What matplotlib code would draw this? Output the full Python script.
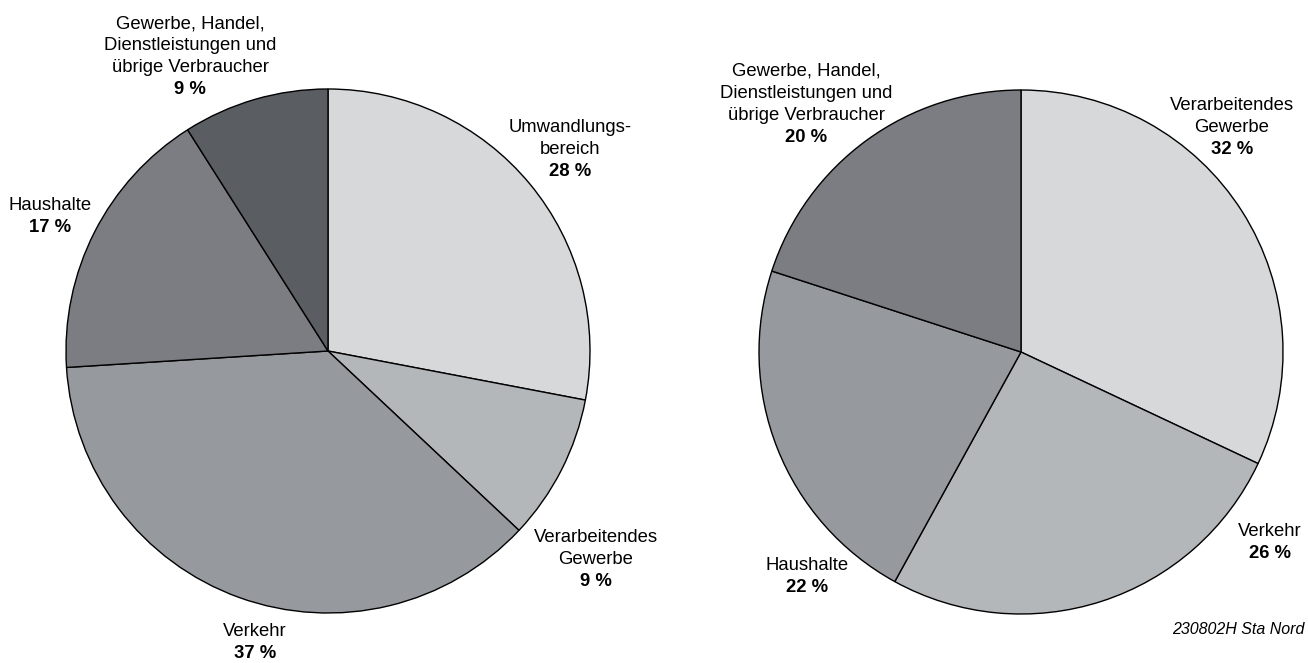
import matplotlib
matplotlib.use("Agg")
import matplotlib.pyplot as plt

plt.rcParams['font.family'] = ['Liberation Sans', 'DejaVu Sans']

# Left pie: shares by sector
left_labels = ["Umwandlungs-\nbereich", "Verarbeitendes\nGewerbe", "Verkehr",
               "Haushalte", "Gewerbe, Handel,\nDienstleistungen und\nübrige Verbraucher"]
left_values = [28, 9, 37, 17, 9]
left_colors = ["#d7d8da", "#b4b7ba", "#96999e", "#7c7d82", "#5a5d61"]

# Right pie
right_labels = ["Verarbeitendes\nGewerbe", "Verkehr", "Haushalte",
                "Gewerbe, Handel,\nDienstleistungen und\nübrige Verbraucher"]
right_values = [32, 26, 22, 20]
right_colors = ["#d7d8da", "#b4b7ba", "#96999e", "#7c7d82"]

W, H = 1308, 663
fig = plt.figure(figsize=(W / 100, H / 100), dpi=100)
ax = fig.add_axes([0, 0, 1, 1])

wedge = dict(edgecolor='black', linewidth=1.0)
ax.pie(left_values, colors=left_colors, startangle=90, counterclock=False,
       center=(328, H - 351), radius=262, wedgeprops=wedge, frame=True)
ax.pie(right_values, colors=right_colors, startangle=90, counterclock=False,
       center=(1021, H - 352), radius=262, wedgeprops=wedge, frame=True)
ax.set_xlim(0, W)
ax.set_ylim(0, H)
ax.set_aspect('equal')
ax.axis('off')

LS = 22
FS = 13.3


def put_label(x, ytop, name, value, ha='center'):
    lines = name.split("\n")
    for i, ln in enumerate(lines):
        ax.text(x, H - (ytop + i * LS), ln, ha=ha, va='center', fontsize=FS)
    ax.text(x, H - (ytop + len(lines) * LS), f"{value} %", ha=ha, va='center',
            fontsize=FS, fontweight='bold')


# label positions in pixels (x centre, y of first line from top)
left_pos = [(570, 127), (596, 538), (255, 632), (50, 206), (190, 24)]
for (x, y), name, v in zip(left_pos, left_labels, left_values):
    put_label(x, y, name, v)

right_pos = [(1232, 106), (1270, 531), (807, 566), (806, 71)]
for (x, y), name, v in zip(right_pos, right_labels, right_values):
    put_label(x, y, name, v)

ax.text(1304, H - 629, "230802H Sta Nord", ha='right', va='center',
        fontsize=11.5, style='italic')

fig.savefig("out.png", dpi=100)
